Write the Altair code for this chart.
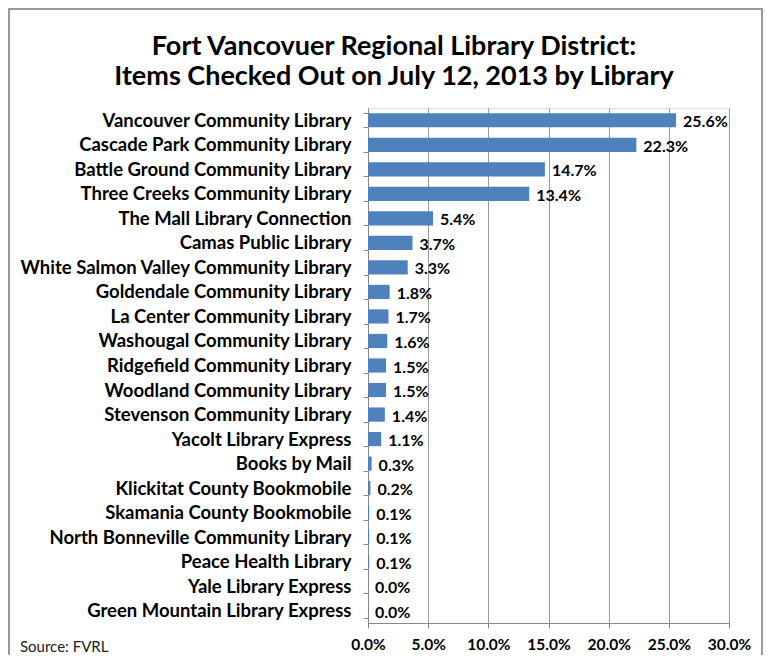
import altair as alt
import pandas as pd

libraries = [
    "Vancouver Community Library",
    "Cascade Park Community Library",
    "Battle Ground Community Library",
    "Three Creeks Community Library",
    "The Mall Library Connection",
    "Camas Public Library",
    "White Salmon Valley Community Library",
    "Goldendale Community Library",
    "La Center Community Library",
    "Washougal Community Library",
    "Ridgefield Community Library",
    "Woodland Community Library",
    "Stevenson Community Library",
    "Yacolt Library Express",
    "Books by Mail",
    "Klickitat County Bookmobile",
    "Skamania County Bookmobile",
    "North Bonneville Community Library",
    "Peace Health Library",
    "Yale Library Express",
    "Green Mountain Library Express",
]
percent = [25.6, 22.3, 14.7, 13.4, 5.4, 3.7, 3.3, 1.8, 1.7, 1.6, 1.5, 1.5,
           1.4, 1.1, 0.3, 0.2, 0.1, 0.1, 0.1, 0.0, 0.0]
x_ticks = [0, 5, 10, 15, 20, 25, 30]
title_lines = ["Fort Vancovuer Regional Library District:",
               "Items Checked Out on July 12, 2013 by Library"]
source_text = ["Source: FVRL"]

df = pd.DataFrame({"library": libraries, "pct": percent})
df["label"] = [f"{v:.1f}%" for v in percent]

FONT = "Lato"
W, H = 361, 515

y_enc = alt.Y(
    "library:N", sort=libraries, title=None,
    scale=alt.Scale(paddingInner=0.42, paddingOuter=0.21),
    axis=alt.Axis(
        labelFont=FONT, labelFontSize=18.5, labelFontWeight="bold", labelColor="#000",
        labelPadding=12, tickBand="extent", tickSize=5, tickColor="#888",
        domainColor="#888", grid=False, labelLimit=400,
    ),
)
x_enc = alt.X(
    "pct:Q", title=None,
    scale=alt.Scale(domain=[0, 30], nice=False),
    axis=alt.Axis(
        values=x_ticks, labelExpr="format(datum.value, '.1f') + '%'",
        labelFont=FONT, labelFontSize=15.5, labelFontWeight="bold", labelColor="#000",
        labelPadding=9, tickSize=5, tickColor="#888", domainColor="#888",
        grid=True, gridColor="#999", gridWidth=1, labelOverlap=False,
        labelFlush=False, labelBound=False,
    ),
)

bars = alt.Chart(df).mark_bar(color="#4F81BD").encode(y=y_enc, x=x_enc)
labels = alt.Chart(df).mark_text(
    align="left", baseline="middle", dx=7, dy=2, font=FONT, fontSize=16,
    fontWeight="bold", color="#000",
).encode(y=alt.Y("library:N", sort=libraries), x="pct:Q", text="label:N")

title1 = alt.Chart(pd.DataFrame({"t": title_lines[:1]})).mark_text(
    align="center", baseline="alphabetic", font=FONT, fontSize=27,
    fontWeight="bold", color="#000",
).encode(x=alt.value(26), y=alt.value(-53), text="t:N")
title2 = alt.Chart(pd.DataFrame({"t": title_lines[1:]})).mark_text(
    align="center", baseline="alphabetic", font=FONT, fontSize=27,
    fontWeight="bold", color="#000",
).encode(x=alt.value(26), y=alt.value(-23), text="t:N")

source = alt.Chart(pd.DataFrame({"t": source_text})).mark_text(
    align="left", baseline="middle", font=FONT, fontSize=15, color="#222",
).encode(x=alt.value(-348), y=alt.value(539), text="t:N")

frame_l = alt.Chart(pd.DataFrame({"a": [0]})).mark_rule(color="#999", strokeWidth=2).encode(
    x=alt.value(-359), y=alt.value(-100), y2=alt.value(H + 40))
frame_t = alt.Chart(pd.DataFrame({"a": [0]})).mark_rule(color="#999", strokeWidth=2).encode(
    x=alt.value(-360), x2=alt.value(395), y=alt.value(-99))
frame_r = alt.Chart(pd.DataFrame({"a": [0]})).mark_rule(color="#999", strokeWidth=2).encode(
    x=alt.value(394), y=alt.value(-100), y2=alt.value(H + 40))

chart = alt.layer(frame_l, frame_t, frame_r, bars, labels, title1, title2, source).properties(
    width=W, height=H,
    autosize=alt.AutoSizeParams(type="none"),
    padding={"left": 360, "top": 100, "right": 35, "bottom": 32},
).configure_view(stroke=None).configure(background="white")

chart.save("out.html", embed_options={"renderer": "svg", "actions": False})
